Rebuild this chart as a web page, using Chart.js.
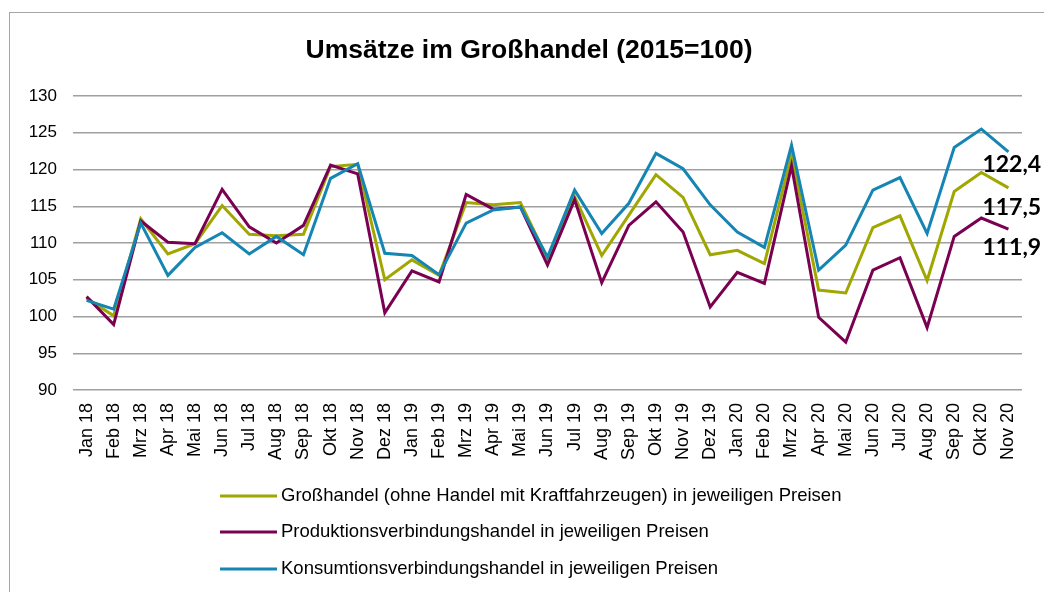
<!DOCTYPE html>
<html>
<head>
<meta charset="utf-8">
<script src="https://cdn.jsdelivr.net/npm/chart.js@4.4.1/dist/chart.umd.min.js"></script>
<style>
  html, body { margin: 0; padding: 0; background: #fff; }
  #wrap { width: 1044px; height: 592px; position: relative; }
</style>
</head>
<body>
<div id="wrap"><canvas id="c" width="1044" height="592"></canvas></div>
<script>
const titleText = "Umsätze im Großhandel (2015=100)";
const categories = ["Jan 18","Feb 18","Mrz 18","Apr 18","Mai 18","Jun 18","Jul 18","Aug 18","Sep 18","Okt 18","Nov 18","Dez 18",
  "Jan 19","Feb 19","Mrz 19","Apr 19","Mai 19","Jun 19","Jul 19","Aug 19","Sep 19","Okt 19","Nov 19","Dez 19",
  "Jan 20","Feb 20","Mrz 20","Apr 20","Mai 20","Jun 20","Jul 20","Aug 20","Sep 20","Okt 20","Nov 20"];
const seriesNames = [
  "Großhandel (ohne Handel mit Kraftfahrzeugen) in jeweiligen Preisen",
  "Produktionsverbindungshandel in jeweiligen Preisen",
  "Konsumtionsverbindungshandel in jeweiligen Preisen"
];
const grosshandel = [102.5,100.1,113.3,108.5,109.9,115.1,111.2,111.0,111.2,120.4,120.7,105.0,
  107.7,105.6,115.5,115.2,115.5,107.9,116.3,108.3,113.8,119.3,116.2,108.4,
  109.0,107.2,122.0,103.6,103.2,112.1,113.7,104.9,117.0,119.6,117.5];
const produktion = [102.7,98.9,113.0,110.1,109.9,117.3,112.2,110.0,112.4,120.6,119.4,100.5,
  106.2,104.7,116.6,114.6,114.9,107.0,115.9,104.6,112.4,115.6,111.5,101.3,
  106.0,104.5,120.5,99.9,96.5,106.3,108.0,98.5,110.9,113.4,111.9];
const konsumtion = [102.2,101.0,112.7,105.6,109.4,111.4,108.5,110.9,108.4,118.8,120.8,108.6,
  108.3,105.7,112.7,114.5,114.9,108.1,117.2,111.3,115.4,122.2,120.1,115.2,
  111.5,109.4,123.3,106.3,109.7,117.2,118.9,111.3,123.0,125.5,122.4];
const yTicks = [90, 95, 100, 105, 110, 115, 120, 125, 130];

const colors = ["#9fa700", "#7a0052", "#1586b3"];
const labelOffsets = [20, 19, 13];

const decor = {
  id: "decor",
  beforeDraw(chart) {
    const ctx = chart.ctx;
    ctx.save();
    ctx.fillStyle = "#fff";
    ctx.fillRect(0, 0, chart.width, chart.height);
    ctx.strokeStyle = "#a6a6a6";
    ctx.lineWidth = 1;
    ctx.strokeRect(9.5, 12.5, 1200, 800);
    ctx.fillStyle = "#000";
    ctx.font = "bold 26.5px 'Liberation Sans', Arial, sans-serif";
    ctx.textAlign = "center";
    ctx.textBaseline = "middle";
    ctx.fillText(titleText, 529, 51);
    // legend
    const ys = [496, 532, 569];
    ctx.font = "18.5px 'Liberation Sans', Arial, sans-serif";
    ctx.textAlign = "left";
    chart.data.datasets.forEach((ds, i) => {
      ctx.strokeStyle = ds.borderColor;
      ctx.lineWidth = 3;
      ctx.beginPath();
      ctx.moveTo(220, ys[i]);
      ctx.lineTo(277, ys[i]);
      ctx.stroke();
      ctx.fillStyle = "#000";
      ctx.fillText(ds.label, 281, ys[i]);
    });
    ctx.restore();
  },
  afterDatasetsDraw(chart) {
    const ctx = chart.ctx;
    ctx.save();
    ctx.fillStyle = "#000";
    ctx.font = "bold 23px Lato, 'Open Sans', sans-serif";
    ctx.textAlign = "left";
    ctx.textBaseline = "middle";
    chart.data.datasets.forEach((ds, i) => {
      const meta = chart.getDatasetMeta(i);
      const n = ds.data.length - 1;
      const pt = meta.data[n];
      const txt = ds.data[n].toFixed(1).replace(".", ",");
      ctx.fillText(txt, pt.x - 26, pt.y + labelOffsets[i]);
    });
    ctx.restore();
  }
};

new Chart(document.getElementById("c"), {
  type: "line",
  data: {
    labels: categories,
    datasets: [
      { label: seriesNames[0], data: grosshandel, borderColor: colors[0], order: 2 },
      { label: seriesNames[1], data: produktion, borderColor: colors[1], order: 1 },
      { label: seriesNames[2], data: konsumtion, borderColor: colors[2], order: 0 }
    ].map(d => Object.assign(d, { borderWidth: 3, pointRadius: 0, pointHoverRadius: 0, tension: 0, fill: false, borderJoinStyle: "miter" }))
  },
  options: {
    responsive: false,
    animation: false,
    events: [],
    layout: { padding: { top: 96, right: 22, left: 0, bottom: 0 } },
    plugins: { legend: { display: false }, title: { display: false }, tooltip: { enabled: false } },
    scales: {
      x: {
        offset: true,
        grid: { display: false },
        border: { display: false },
        ticks: {
          autoSkip: false, maxRotation: 90, minRotation: 90, padding: 5,
          color: "#000", font: { family: "'Liberation Sans', Arial, sans-serif", size: 18 }
        },
        afterFit(scale) { scale.height = 202; }
      },
      y: {
        min: yTicks[0], max: yTicks[yTicks.length - 1],
        afterBuildTicks(scale) { scale.ticks = yTicks.map(v => ({ value: v })); },
        grid: { color: "#a0a0a0", lineWidth: 1.5, drawTicks: false },
        border: { display: false },
        ticks: {
          padding: 16, color: "#000",
          font: { family: "'Liberation Sans', Arial, sans-serif", size: 17 }
        },
        afterFit(scale) { scale.width = 73; }
      }
    }
  },
  plugins: [decor]
});
</script>
</body>
</html>
